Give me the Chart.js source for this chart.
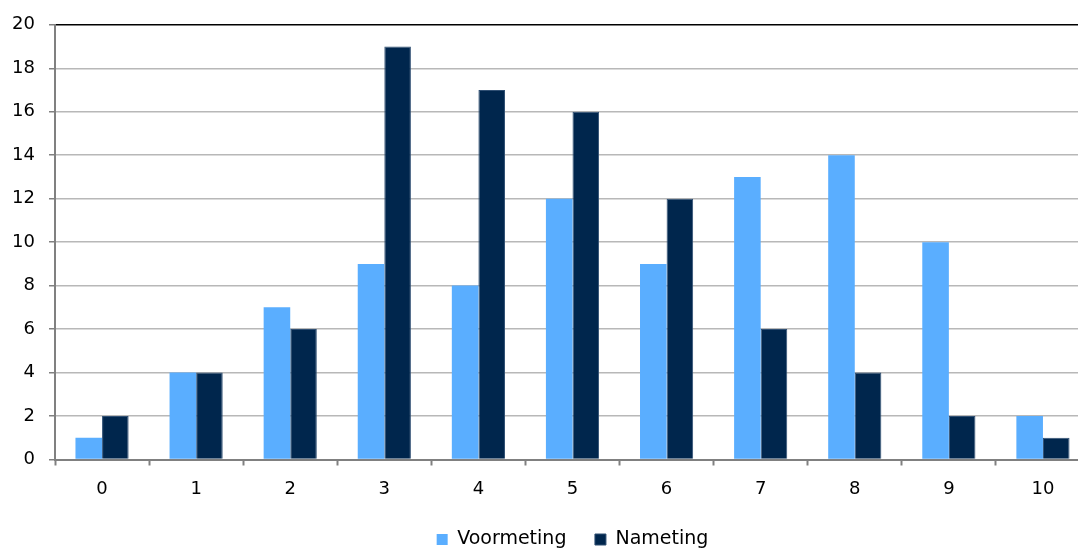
<!DOCTYPE html>
<html>
<head>
<meta charset="utf-8">
<script src="https://cdn.jsdelivr.net/npm/chart.js@4/dist/chart.umd.min.js"></script>
<style>
  html, body { margin: 0; padding: 0; background: #fff; overflow: hidden; }
  #wrap { width: 1090px; height: 559px; position: relative; }
</style>
</head>
<body>
<div id="wrap"><canvas id="myChart"></canvas></div>
<script>
var ctx = document.getElementById("myChart").getContext("2d");

// scores on the x axis
const categories = ["0", "1", "2", "3", "4", "5", "6", "7", "8", "9", "10"];

// number of pupils per score
const voormeting = [1, 4, 7, 9, 8, 12, 9, 13, 14, 10, 2];
const nameting = [2, 4, 6, 19, 17, 16, 12, 6, 4, 2, 1];

const yTicks = [0, 2, 4, 6, 8, 10, 12, 14, 16, 18, 20];

Chart.defaults.font.family = "'DejaVu Sans', Verdana, sans-serif";
Chart.defaults.font.size = 18;
Chart.defaults.color = "#000";

var chart = new Chart(ctx, {
  type: "bar",
  data: {
    labels: categories,
    datasets: [
      {
        label: "Voormeting",
        data: voormeting,
        backgroundColor: "#5aaeff",
        borderWidth: 0,
        categoryPercentage: 0.565,
        barPercentage: 1
      },
      {
        label: "Nameting",
        data: nameting,
        backgroundColor: "#00264d",
        borderColor: "#2f4f73",
        borderWidth: 1,
        categoryPercentage: 0.565,
        barPercentage: 1
      }
    ]
  },
  options: {
    responsive: true,
    maintainAspectRatio: false,
    animation: false,
    layout: { autoPadding: false, padding: { top: 20, right: 0, left: 0, bottom: 0 } },
    plugins: {
      tooltip: { enabled: false },
      legend: {
        position: "bottom",
        fullSize: false,
        labels: {
          boxWidth: 11,
          boxHeight: 11,
          padding: 28.5,
          font: { size: 19 }
        }
      }
    },
    scales: {
      x: {
        grid: {
          drawOnChartArea: false,
          drawTicks: true,
          tickLength: 6,
          tickColor: "#808080",
          tickWidth: 2
        },
        border: { color: "#808080", width: 2 },
        ticks: { padding: 13 },
        afterFit: function (scale) { scale.height = 42; }
      },
      y: {
        min: 0,
        max: 20,
        afterBuildTicks: function (scale) {
          scale.ticks = yTicks.map(function (v) { return { value: v }; });
        },
        grid: {
          color: function (c) {
            return c.tick && c.tick.value === 20 ? "#000" : "#b8b8b8";
          },
          lineWidth: 1.5,
          tickLength: 6,
          tickColor: "#808080"
        },
        border: { color: "#808080", width: 2 },
        ticks: { padding: 14 },
        afterFit: function (scale) { scale.width = 55; }
      }
    }
  }
});
</script>
</body>
</html>
